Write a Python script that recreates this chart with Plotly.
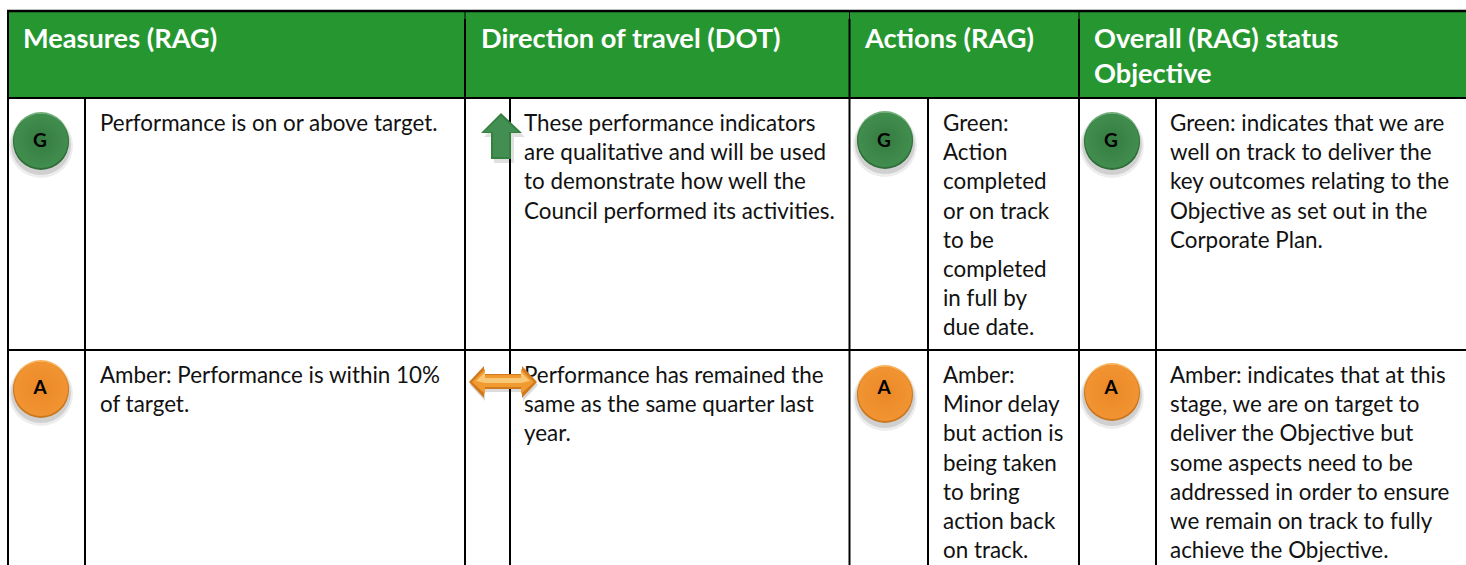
import plotly.graph_objects as go

# ---- content ----
HEADERS = ["Measures (RAG)", "Direction of travel (DOT)", "Actions (RAG)", "Overall (RAG) status", "Objective"]
BADGE_LABELS = ["G", "A", "G", "A", "G", "A"]
MEASURES = [["Performance is on or above target."],
            ["Amber: Performance is within 10%", "of target."]]
DIRECTION = [["These performance indicators", "are qualitative and will be used", "to demonstrate how well the", "Council performed its activities."],
             ["Performance has remained the", "same as the same quarter last", "year."]]
ACTIONS = [["Green:", "Action", "completed", "or on track", "to be", "completed", "in full by", "due date."],
           ["Amber:", "Minor delay", "but action is", "being taken", "to bring", "action back", "on track."]]
OVERALL = [["Green: indicates that we are", "well on track to deliver the", "key outcomes relating to the", "Objective as set out in the", "Corporate Plan."],
           ["Amber: indicates that at this", "stage, we are on target to", "deliver the Objective but", "some aspects need to be", "addressed in order to ensure", "we remain on track to fully", "achieve the Objective."]]

# ---- layout constants (pixels) ----
W, H = 1466, 565
TOP, HEAD_B, ROW_B = 11, 98, 350
COLS = [8, 465, 849.5, 1079]
SUB = [85, 510, 928, 1156]
TEXT_X = [100, 524, 943, 1170]
ROW_Y = [125.5, 377.5]
LINE = 29.2
FONT = "Lato"
BODY = 22.4

fig = go.Figure()
shapes = [dict(type="rect", x0=8, x1=W, y0=TOP, y1=HEAD_B, fillcolor="#269730", line_width=0, layer="below")]
def ln(x0, y0, x1, y1, w=2):
    shapes.append(dict(type="line", x0=x0, y0=y0, x1=x1, y1=y1, line=dict(color="black", width=w), layer="below"))
ln(7, TOP, W, TOP, 2.5); ln(7, HEAD_B, W, HEAD_B); ln(7, ROW_B, W, ROW_B)
ln(8, TOP, 8, H)
for x in COLS[1:]:
    ln(x, TOP, x, 19, 1)
    ln(x, 19, x, H)
for x in SUB:
    ln(x, HEAD_B, x, H)

def poly(pts, dx=0, dy=0):
    return "M" + " L".join(f"{x + dx},{y + dy}" for x, y in pts) + " Z"

UP = [(501, 113), (522, 133), (511, 133), (511, 159), (491, 159), (491, 133), (481, 133)]
UP_MID = [(501, 116), (518, 132), (509, 132), (509, 157), (493, 157), (493, 132), (484, 132)]
BOTH = [(469, 382), (484, 366), (484, 374), (522, 374), (522, 366), (537, 382), (522, 398), (522, 389), (484, 389), (484, 398)]
BOTH_MID = [(472, 382), (485, 369), (485, 375), (521, 375), (521, 369), (534, 382), (521, 394), (521, 387), (485, 387), (485, 394)]
BOTH_LIGHT = [(476, 381), (485, 372), (485, 378), (521, 378), (521, 372), (530, 381), (521, 383), (485, 383)]
over = dict(layer="above", line_width=0)
shapes += [
    dict(type="path", path=poly(UP, 3, 4), fillcolor="rgba(0,0,0,0.12)", **over),
    dict(type="path", path=poly(UP), fillcolor="#35803f", **over),
    dict(type="path", path=poly(UP_MID), fillcolor="#438f53", **over),
    dict(type="path", path=poly(BOTH, 1, 3), fillcolor="rgba(0,0,0,0.14)", **over),
    dict(type="path", path=poly(BOTH), fillcolor="#d07a20", **over),
    dict(type="path", path=poly(BOTH_MID), fillcolor="#f09a30", **over),
    dict(type="path", path=poly(BOTH_LIGHT), fillcolor="#f9c877", **over),
]
fig.update_layout(shapes=shapes)

# body text, one trace per column (under the arrows, which overlap it in the source)
for i, col in enumerate([MEASURES, DIRECTION, ACTIONS, OVERALL]):
    xs, ys, ts = [], [], []
    for r, lines in enumerate(col):
        for k, t in enumerate(lines):
            xs.append(TEXT_X[i]); ys.append(ROW_Y[r] + k * LINE); ts.append(t)
    fig.add_trace(go.Scatter(x=xs, y=ys, mode="text", text=ts, textposition="middle right", hoverinfo="skip",
                             textfont=dict(family=FONT, size=BODY, color="#111111")))

# badges
cx = [41, 41, 885, 885, 1112, 1112]
cy = [141, 389, 140, 394, 141, 392]
ly = [142, 389, 142, 389, 142, 389]
kinds = ["g", "a", "g", "a", "g", "a"]
PAL = {"g": ("#6fae78", "#2f6d39", "#418e4e", "#357b41"), "a": ("#f8b25a", "#c9781f", "#f29433", "#ea8826")}
for size, off, alpha in [(64, 5, 0.07), (60, 4, 0.12)]:
    fig.add_trace(go.Scatter(x=cx, y=[y + off for y in cy], mode="markers", hoverinfo="skip",
                             marker=dict(size=size, color=f"rgba(0,0,0,{alpha})", line_width=0)))
fig.add_trace(go.Scatter(x=cx, y=[y - 1 for y in cy], mode="markers", hoverinfo="skip",
                         marker=dict(size=56, color=[PAL[k][0] for k in kinds], line_width=0)))
fig.add_trace(go.Scatter(x=cx, y=[y + 1 for y in cy], mode="markers", hoverinfo="skip",
                         marker=dict(size=56, color=[PAL[k][1] for k in kinds], line_width=0)))
fig.add_trace(go.Scatter(x=cx, y=cy, mode="markers", hoverinfo="skip",
                         marker=dict(size=54, color=[PAL[k][2] for k in kinds],
                                     gradient=dict(type="radial", color=[PAL[k][3] for k in kinds]), line_width=0)))
fig.add_trace(go.Scatter(x=[x - 1 for x in cx], y=ly, mode="text", text=[f"<b>{t}</b>" for t in BADGE_LABELS],
                         textfont=dict(family=FONT, size=19, color="black"), hoverinfo="skip"))

# header text
hx = [23, 481, 865, 1094, 1094]
hy = [41, 41, 41, 41, 76]
fig.add_trace(go.Scatter(x=hx, y=hy, mode="text", text=[f"<b>{t}</b>" for t in HEADERS], textposition="middle right",
                         hoverinfo="skip", textfont=dict(family=FONT, size=27.2, color="white")))

fig.update_layout(width=W, height=H, margin=dict(l=0, r=0, t=0, b=0), showlegend=False,
                  paper_bgcolor="white", plot_bgcolor="white",
                  xaxis=dict(range=[0, W], visible=False, fixedrange=True),
                  yaxis=dict(range=[H, 0], visible=False, fixedrange=True))
fig.write_html("out.html", config=dict(displayModeBar=False),
               post_script="document.body.style.margin='0';document.body.style.overflow='hidden';")
